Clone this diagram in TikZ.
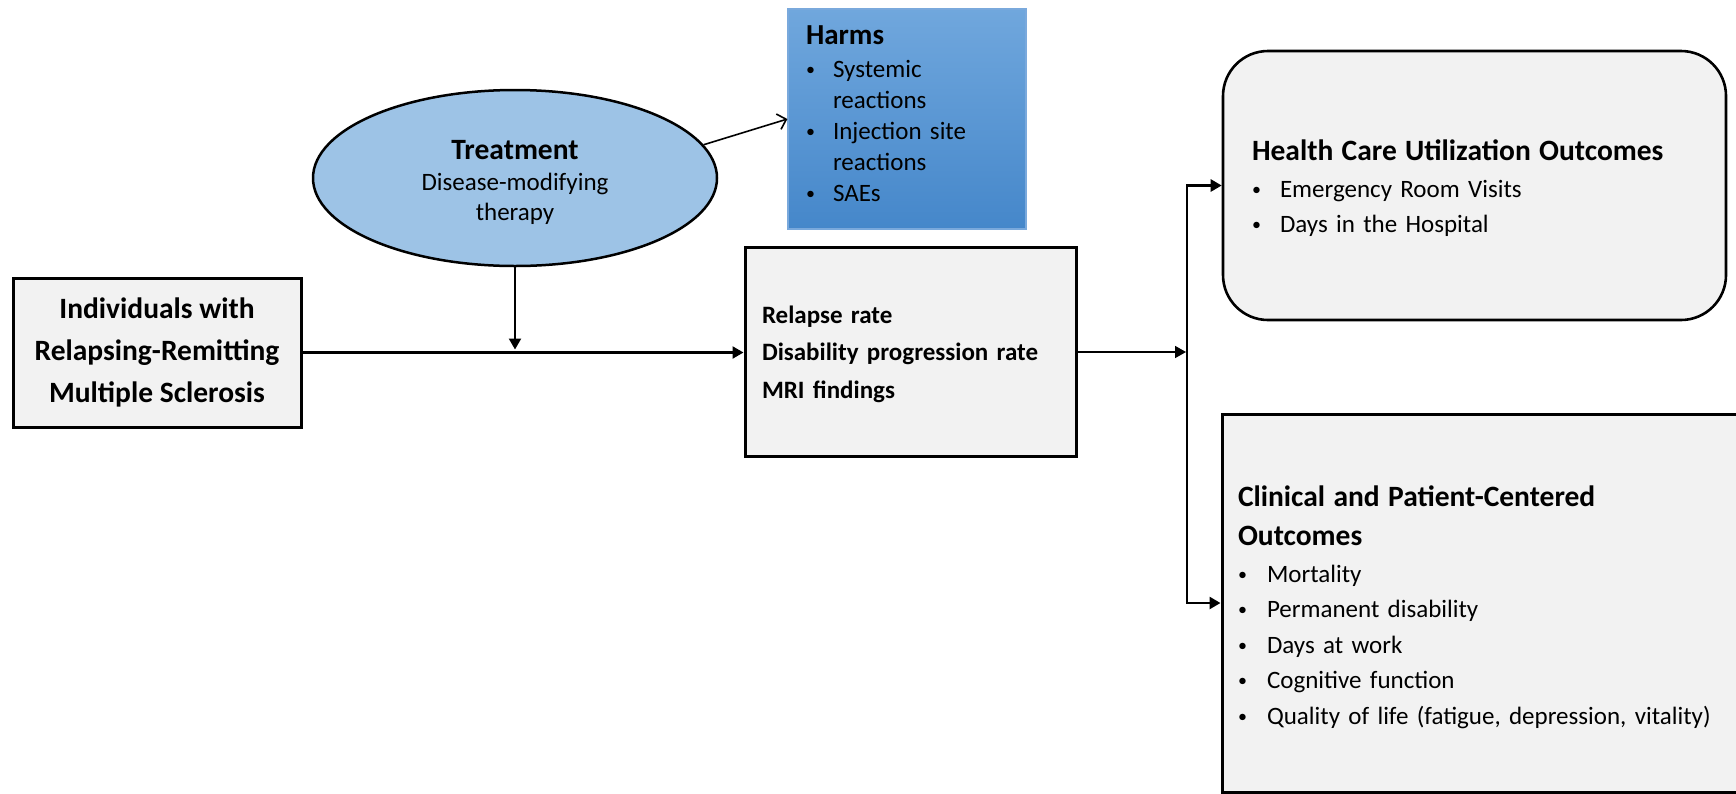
\documentclass[tikz,border=0pt]{standalone}
\usepackage{fontspec}
\setmainfont{Carlito}
\usetikzlibrary{shapes.geometric,arrows.meta,calc}
\definecolor{boxgray}{HTML}{F2F2F2}
\definecolor{ellblue}{HTML}{9DC3E6}
\definecolor{harmtop}{HTML}{70A7DD}
\definecolor{harmbot}{HTML}{4587CA}
\definecolor{harmline}{HTML}{7AA9DC}
% bullet item: a small bullet in a fixed-width box, then the text
\newcommand\smallbullet{\raisebox{0.09em}{\scalebox{0.72}{\textbullet}}}
\newcommand\bitem[2][27pt]{\makebox[#1][l]{\smallbullet}#2}
\newcommand\bcont[2][27pt]{\makebox[#1][l]{}#2}

\begin{document}
\begin{tikzpicture}[x=1pt,y=-1pt,
  graybox/.style={draw=black, line width=3pt, fill=boxgray, rectangle, inner sep=0pt},
  tip/.style={-{Triangle[length=11pt,width=12pt]}},
  conn/.style={line width=2.2pt, tip},
]
\useasboundingbox[fill=white] (0,0) rectangle (1736,793);

% population
\node[graybox, minimum width=288pt, minimum height=149pt, align=center,
      font=\fontsize{29.5}{42}\selectfont\bfseries] (pop) at (157,352.5)
  {Individuals with\\Relapsing-Remitting\\Multiple Sclerosis};

% intermediate outcomes
\node[graybox, minimum width=331pt, minimum height=209pt, text width=297pt, align=left,
      font=\fontsize{25}{37.5}\selectfont\bfseries] (inter) at (910.5,351.5)
  {\rule{0pt}{23pt}Relapse rate\\Disability progression rate\\MRI findings};

% treatment
\node[ellipse, draw=black, line width=2.5pt, fill=ellblue, minimum width=404pt,
      minimum height=176pt, inner sep=0pt, align=center,
      font=\fontsize{25}{30}\selectfont] (treat) at (515,178)
  {\rule{0pt}{28pt}{\fontsize{29.5}{30}\selectfont\bfseries Treatment}\\[1pt]Disease-modifying\\therapy};

% harms
\node[rectangle, top color=harmtop, bottom color=harmbot, draw=harmline, line width=1.2pt,
      minimum width=238pt, minimum height=220pt, inner sep=0pt, text width=202pt, align=left,
      font=\fontsize{25}{31}\selectfont] (harms) at (907,119)
  {{\fontsize{29}{31}\selectfont\bfseries Harms}\\[2pt]
   \bitem{Systemic}\\\bcont{reactions}\\\bitem{Injection site}\\\bcont{reactions}\\\bitem{SAEs}\rule[-11pt]{0pt}{11pt}};

% health care utilization
\node[graybox, line width=2.6pt, rounded corners=45pt, minimum width=503pt, minimum height=269pt,
      text width=445pt, align=left, font=\fontsize{25}{35}\selectfont] (hcu) at (1474.5,185.5)
  {\rule{0pt}{26pt}{\fontsize{29.5}{35}\selectfont\bfseries Health Care Utilization Outcomes}\\[2pt]
   \bitem[28pt]{Emergency Room Visits}\\\bitem[28pt]{Days in the Hospital}};

% clinical and patient-centered outcomes (runs past the right edge)
\node[graybox, minimum width=538pt, minimum height=378pt, text width=506pt, align=left,
      font=\fontsize{25}{35.5}\selectfont] (clin) at (1491,603)
  {\rule{0pt}{29pt}{\fontsize{29.5}{36}\selectfont\bfseries Clinical and Patient-Centered}\\[4pt]
   {\fontsize{29.5}{36}\selectfont\bfseries Outcomes}\\[1pt]
   \bitem[29pt]{Mortality}\\\bitem[29pt]{Permanent disability}\\\bitem[29pt]{Days at work}\\
   \bitem[29pt]{Cognitive function}\\\bitem[29pt]{Quality of life (fatigue, depression, vitality)}};

% connectors
\coordinate (split) at (1187,352);
\draw[line width=2.2pt, tip] (pop.east) -- (pop.east -| inter.west);
\draw[conn, shorten >=3pt] (treat.south) -- (treat.south |- pop.east);
\draw[line width=1.6pt, -{Straight Barb[length=8pt,width=16pt]}] (treat.10) -- (harms.west);
\draw[line width=1.6pt, tip, shorten >=1pt] (inter.east |- split) -- (split);
\draw[line width=2.6pt, {Triangle[length=11pt,width=12pt]}-{Triangle[length=11pt,width=12pt]}]
  (hcu.west) -| (split) |- (clin.west);
\end{tikzpicture}
\end{document}
